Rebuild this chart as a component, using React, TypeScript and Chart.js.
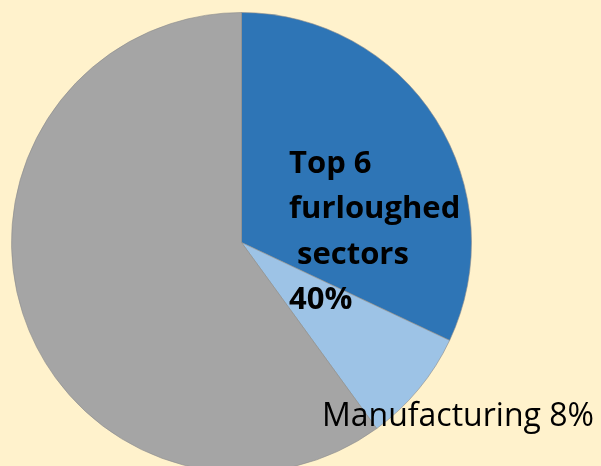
import React, { useEffect, useRef } from "react";
import { Chart, registerables } from "chart.js";

Chart.register(...registerables);

const categories = ["Top 6 furloughed sectors", "Manufacturing", "Other"];
const values = [32, 8, 60];
const colors = ["#2E75B6", "#9DC3E6", "#A5A5A5"];
const topLabelLines = ["Top 6", "furloughed", " sectors", "40%"];
const manufacturingLabel = "Manufacturing 8%";

const labelPlugin = {
  id: "labels",
  afterDatasetsDraw(chart: any) {
    const ctx = chart.ctx;
    ctx.save();
    ctx.fillStyle = "#000";
    ctx.textBaseline = "alphabetic";
    ctx.textAlign = "left";
    ctx.font = "bold 31px 'Open Sans'";
    const baselines = [173, 218, 264, 309];
    topLabelLines.forEach((line, i) => {
      ctx.fillText(line, 289, baselines[i]);
    });
    ctx.font = "32px 'Open Sans'";
    ctx.fillText(manufacturingLabel, 322, 426);
    ctx.restore();
  },
};

export default function App() {
  const ref = useRef<HTMLCanvasElement>(null);
  useEffect(() => {
    document.body.style.margin = "0";
    const chart = new Chart(ref.current!, {
      type: "pie",
      data: {
        labels: categories,
        datasets: [
          {
            data: values,
            backgroundColor: colors,
            borderColor: "rgba(140,140,140,0.6)",
            borderWidth: 1,
            hoverOffset: 0,
          },
        ],
      },
      options: {
        responsive: false,
        animation: false,
        layout: { padding: { left: 11, right: 129, top: 12, bottom: 7 } },
        plugins: { legend: { display: false }, tooltip: { enabled: false } },
      },
      plugins: [labelPlugin],
    });
    return () => chart.destroy();
  }, []);
  return (
    <div style={{ width: 601, height: 466, overflow: "hidden", background: "#FFF2CC", position: "absolute", left: 0, top: 0 }}>
      <canvas ref={ref} width={601} height={480} style={{ display: "block" }} />
    </div>
  );
}
